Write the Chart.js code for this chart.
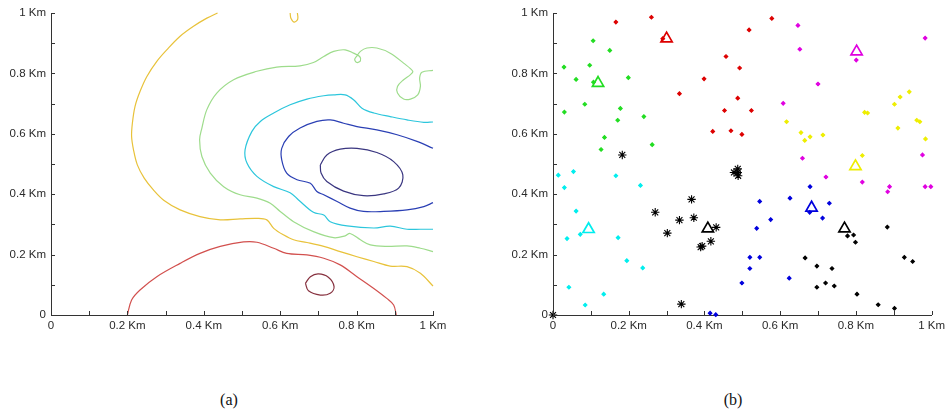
<!DOCTYPE html>
<html>
<head>
<meta charset="UTF-8">
<title>Contours and clusters</title>
<script src="https://cdn.jsdelivr.net/npm/chart.js"></script>
<style>
  body { margin: 0; background: #fff; width: 949px; height: 416px; position: relative; overflow: hidden; }
  .wrap { position: absolute; top: 0; height: 345px; }
  .cap { position: absolute; top: 391px; font: 16px "Liberation Serif", serif; color: #111; transform: translateX(-50%); }
</style>
</head>
<body>
<div class="wrap" style="left:0;width:475px"><canvas id="chartA"></canvas></div>
<div class="wrap" style="left:475px;width:474px"><canvas id="chartB"></canvas></div>
<div class="cap" style="left:229px">(a)</div>
<div class="cap" style="left:733px">(b)</div>
<script>
// axis ticks
const tickValues = [0, 0.2, 0.4, 0.6, 0.8, 1];
const tickLabels = ['0', '0.2 Km', '0.4 Km', '0.6 Km', '0.8 Km', '1 Km'];

// (a) contour lines, [x, y] in Km
const contourYellow = [[0.436,1.0],[0.408,0.983],[0.373,0.956],[0.338,0.923],[0.303,0.878],[0.277,0.840],[0.251,0.790],[0.233,0.740],[0.220,0.691],[0.213,0.635],[0.211,0.591],[0.216,0.547],[0.226,0.497],[0.244,0.453],[0.268,0.414],[0.295,0.380],[0.338,0.348],[0.390,0.326],[0.443,0.315],[0.495,0.318],[0.539,0.320],[0.565,0.315],[0.583,0.287],[0.609,0.265],[0.635,0.249],[0.670,0.240],[0.714,0.227],[0.757,0.210],[0.801,0.193],[0.845,0.177],[0.888,0.162],[0.932,0.160],[0.967,0.138],[1.0,0.096]];
const contourYellowTop = [[0.626,1.0],[0.628,0.983],[0.637,0.970],[0.646,0.980],[0.645,1.0]];
const contourGreen = [[1.0,0.810],[0.971,0.804],[0.965,0.785],[0.967,0.757],[0.960,0.729],[0.941,0.715],[0.923,0.715],[0.907,0.735],[0.907,0.757],[0.923,0.779],[0.941,0.796],[0.947,0.807],[0.923,0.834],[0.888,0.867],[0.853,0.884],[0.827,0.884],[0.810,0.873],[0.801,0.858],[0.795,0.846],[0.801,0.836],[0.810,0.842],[0.808,0.856],[0.792,0.867],[0.770,0.878],[0.740,0.873],[0.714,0.856],[0.687,0.836],[0.652,0.825],[0.591,0.821],[0.539,0.807],[0.478,0.779],[0.434,0.735],[0.408,0.680],[0.395,0.619],[0.389,0.580],[0.395,0.525],[0.417,0.470],[0.452,0.425],[0.495,0.398],[0.539,0.387],[0.574,0.370],[0.600,0.343],[0.635,0.309],[0.687,0.276],[0.740,0.256],[0.770,0.262],[0.783,0.270],[0.810,0.249],[0.836,0.232],[0.879,0.227],[0.932,0.229],[0.967,0.221],[1.0,0.210]];
const contourCyan = [[1.0,0.639],[0.976,0.638],[0.932,0.646],[0.888,0.657],[0.845,0.669],[0.814,0.685],[0.792,0.713],[0.770,0.729],[0.740,0.729],[0.714,0.726],[0.670,0.715],[0.626,0.696],[0.583,0.669],[0.548,0.641],[0.526,0.608],[0.508,0.547],[0.513,0.503],[0.539,0.459],[0.583,0.425],[0.626,0.405],[0.648,0.381],[0.687,0.340],[0.714,0.331],[0.731,0.309],[0.775,0.295],[0.845,0.288],[0.888,0.294],[0.932,0.284],[0.967,0.284],[1.0,0.284]];
const contourBlue = [[1.0,0.552],[0.958,0.575],[0.906,0.597],[0.853,0.613],[0.801,0.624],[0.766,0.635],[0.731,0.646],[0.696,0.641],[0.652,0.619],[0.622,0.591],[0.604,0.552],[0.604,0.514],[0.617,0.470],[0.644,0.448],[0.679,0.436],[0.696,0.409],[0.714,0.398],[0.749,0.376],[0.783,0.354],[0.818,0.343],[0.871,0.343],[0.932,0.348],[0.976,0.359],[1.0,0.372]];
const contourNavy = [[0.705,0.497],[0.722,0.530],[0.757,0.549],[0.801,0.552],[0.853,0.538],[0.897,0.508],[0.921,0.464],[0.910,0.420],[0.871,0.401],[0.818,0.395],[0.766,0.410],[0.722,0.442],[0.707,0.470],[0.705,0.497]];
const contourRed = [[0.200,0.0],[0.211,0.050],[0.233,0.083],[0.277,0.127],[0.338,0.171],[0.390,0.204],[0.443,0.227],[0.504,0.242],[0.539,0.241],[0.583,0.221],[0.617,0.204],[0.670,0.199],[0.714,0.188],[0.757,0.166],[0.801,0.127],[0.845,0.088],[0.879,0.055],[0.897,0.033],[0.904,0.0]];
const contourDarkRed = [[0.666,0.105],[0.679,0.127],[0.700,0.136],[0.726,0.125],[0.741,0.094],[0.731,0.072],[0.705,0.066],[0.674,0.080],[0.666,0.105]];

// (b) sensor positions per cluster, [x, y] in Km
const redPts = [[0.166,0.970],[0.260,0.986],[0.578,0.982],[0.518,0.944],[0.457,0.856],[0.493,0.818],[0.399,0.782],[0.334,0.733],[0.488,0.718],[0.453,0.677],[0.524,0.677],[0.422,0.608],[0.470,0.610],[0.499,0.598],[0.290,0.915]];
const greenPts = [[0.106,0.908],[0.150,0.876],[0.029,0.821],[0.097,0.827],[0.061,0.780],[0.199,0.786],[0.107,0.771],[0.084,0.698],[0.030,0.672],[0.178,0.684],[0.171,0.645],[0.240,0.657],[0.136,0.588],[0.127,0.548],[0.262,0.564]];
const cyanPts = [[0.014,0.463],[0.054,0.475],[0.166,0.461],[0.030,0.422],[0.231,0.429],[0.061,0.344],[0.072,0.267],[0.037,0.253],[0.172,0.256],[0.195,0.180],[0.237,0.156],[0.042,0.092],[0.134,0.069],[0.085,0.033]];
const blackStarPts = [[0.183,0.530],[0.488,0.484],[0.488,0.472],[0.489,0.461],[0.478,0.472],[0.366,0.383],[0.270,0.340],[0.334,0.314],[0.372,0.322],[0.302,0.271],[0.431,0.290],[0.417,0.244],[0.390,0.225],[0.394,0.228],[0.339,0.036],[0.0,0.0]];
const bluePts = [[0.679,0.425],[0.626,0.387],[0.546,0.376],[0.730,0.370],[0.678,0.340],[0.712,0.321],[0.575,0.316],[0.538,0.287],[0.520,0.191],[0.546,0.191],[0.520,0.154],[0.624,0.122],[0.499,0.106],[0.415,0.006],[0.430,0.001]];
const blackPts = [[0.778,0.262],[0.794,0.265],[0.799,0.241],[0.883,0.291],[0.666,0.189],[0.697,0.162],[0.737,0.154],[0.697,0.092],[0.720,0.106],[0.743,0.096],[0.803,0.069],[0.928,0.191],[0.950,0.177],[0.859,0.034],[0.902,0.022]];
const magentaPts = [[0.647,0.959],[0.652,0.880],[0.801,0.844],[0.983,0.917],[0.700,0.765],[0.608,0.701],[0.659,0.519],[0.721,0.457],[0.817,0.440],[0.889,0.425],[0.884,0.408],[0.976,0.530],[0.983,0.425],[0.998,0.425]];
const yellowPts = [[0.617,0.640],[0.655,0.604],[0.665,0.578],[0.679,0.590],[0.713,0.596],[0.823,0.671],[0.831,0.669],[0.902,0.698],[0.917,0.722],[0.941,0.739],[0.911,0.619],[0.961,0.645],[0.969,0.640],[0.984,0.583],[0.817,0.528]];
// cluster heads (triangles)
const headRed = [[0.300,0.915]];
const headGreen = [[0.119,0.768]];
const headCyan = [[0.094,0.284]];
const headBlack1 = [[0.409,0.286]];
const headBlue = [[0.683,0.355]];
const headBlack2 = [[0.770,0.286]];
const headMagenta = [[0.802,0.872]];
const headYellow = [[0.799,0.492]];

const toXY = arr => arr.map(p => ({ x: p[0], y: p[1] }));

function contour(pts, color) {
    return {
        data: toXY(pts), showLine: true, borderColor: color, borderWidth: 1.2,
        pointRadius: 0, tension: 0.35, fill: false, clip: false
    };
}
function dots(pts, color, style, r) {
    return {
        data: toXY(pts), showLine: false, pointStyle: style, pointRadius: r,
        borderColor: color, backgroundColor: color, borderWidth: 1.1, clip: false
    };
}
function heads(pts, color) {
    return {
        data: toXY(pts), showLine: false, pointStyle: 'triangle', pointRadius: 6.5,
        borderColor: color, backgroundColor: 'rgba(0,0,0,0)', borderWidth: 1.7, clip: false
    };
}

// inward tick marks every 0.1 Km
const inwardTicks = {
    id: 'inwardTicks',
    afterDraw(chart) {
        const ctx = chart.ctx;
        const xs = chart.scales.x, ys = chart.scales.y;
        ctx.save();
        ctx.strokeStyle = '#333';
        ctx.lineWidth = 1;
        xs.ticks.forEach(t => {
            const px = Math.round(xs.getPixelForValue(t.value)) + 0.5;
            ctx.beginPath();
            ctx.moveTo(px, chart.chartArea.bottom);
            ctx.lineTo(px, chart.chartArea.bottom - 4);
            ctx.stroke();
        });
        ys.ticks.forEach(t => {
            const py = Math.round(ys.getPixelForValue(t.value)) + 0.5;
            ctx.beginPath();
            ctx.moveTo(chart.chartArea.left, py);
            ctx.lineTo(chart.chartArea.left + 4, py);
            ctx.stroke();
        });
        ctx.restore();
    }
};

function tickLabel(v) {
    const i = tickValues.findIndex(t => Math.abs(t - v) < 1e-6);
    return i >= 0 ? tickLabels[i] : '';
}

function makeScales(yWidth) {
    const common = {
        type: 'linear', min: 0, max: 1,
        grid: { display: false, drawTicks: false },
        border: { display: true, color: '#333', width: 1 },
        ticks: {
            stepSize: 0.1, autoSkip: false, maxRotation: 0,
            color: '#2a2a2a', font: { family: 'Liberation Sans', size: 11.5 },
            callback: tickLabel
        }
    };
    return {
        x: Object.assign({}, common, {
            ticks: Object.assign({}, common.ticks, { padding: 4 }),
            afterFit: s => { s.height = 30; }
        }),
        y: Object.assign({}, common, {
            ticks: Object.assign({}, common.ticks, { padding: 5 }),
            afterFit: s => { s.width = yWidth; }
        })
    };
}

function makeChart(id, datasets, yWidth, padRight) {
    return new Chart(document.getElementById(id), {
        type: 'scatter',
        data: { datasets: datasets },
        options: {
            responsive: true, maintainAspectRatio: false, animation: false,
            layout: { padding: { top: 13, right: padRight, left: 0, bottom: 0 } },
            plugins: { legend: { display: false }, tooltip: { enabled: false } },
            scales: makeScales(yWidth)
        },
        plugins: [inwardTicks]
    });
}

makeChart('chartA', [
    contour(contourYellow, '#e8c23a'),
    contour(contourYellowTop, '#e8c23a'),
    contour(contourGreen, '#9edc8c'),
    contour(contourCyan, '#2cc6dc'),
    contour(contourBlue, '#2a3fb4'),
    contour(contourNavy, '#3a3680'),
    contour(contourRed, '#d2504e'),
    contour(contourDarkRed, '#86303e')
], 51, 42);

makeChart('chartB', [
    dots(redPts, '#dd0000', 'rectRot', 1.8),
    dots(greenPts, '#22dd22', 'rectRot', 1.8),
    dots(cyanPts, '#00eeee', 'rectRot', 1.8),
    dots(bluePts, '#0000dd', 'rectRot', 1.8),
    dots(blackPts, '#000000', 'rectRot', 1.8),
    dots(magentaPts, '#e000e0', 'rectRot', 1.8),
    dots(yellowPts, '#eeee00', 'rectRot', 1.8),
    dots(blackStarPts, '#000000', 'star', 4.2),
    heads(headRed, '#dd0000'),
    heads(headGreen, '#22dd22'),
    heads(headCyan, '#00eeee'),
    heads(headBlack1, '#000000'),
    heads(headBlue, '#0000dd'),
    heads(headBlack2, '#000000'),
    heads(headMagenta, '#e000e0'),
    heads(headYellow, '#eeee00')
], 78, 13);
</script>
</body>
</html>
